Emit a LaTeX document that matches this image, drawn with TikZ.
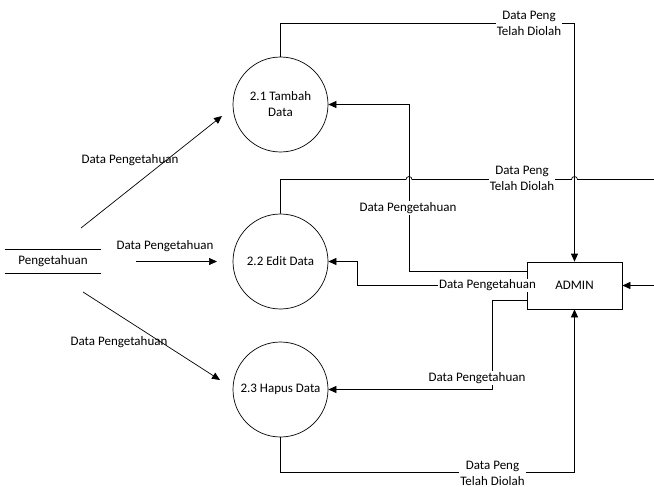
\documentclass[tikz,border=0pt]{standalone}
\usepackage{fontspec}
\setmainfont{Carlito}
\usetikzlibrary{arrows.meta}

\tikzset{
  proses/.style={draw, circle, minimum size=95pt, inner sep=0pt, align=center},
  entitas/.style={draw, minimum width=95pt, minimum height=47pt},
  alur/.style={-{Triangle[length=8pt,width=7pt]}},
  ket/.style={fill=white, inner sep=1pt, align=center}
}

\begin{document}
\begin{tikzpicture}[x=1pt, y=-1pt, line width=0.7pt,
    font=\fontsize{13}{16}\selectfont]
    \useasboundingbox (0,0) rectangle (654,487);
    % proses
    \node[proses] (p1) at (280.5,104.5) {2.1 Tambah\\Data};
    \node[proses] (p2) at (280.5,261.5) {2.2 Edit Data};
    \node[proses] (p3) at (280.5,389.5) {2.3 Hapus Data};
    \node[entitas] (admin) at (574.5,285.5) {ADMIN};
    % data store
    \node[minimum width=96pt, minimum height=23pt] (store) at (53,261.5) {Pengetahuan};
    \draw (store.north west) -- (store.north east);
    \draw (store.south west) -- (store.south east);
    \coordinate (s1) at (81,228);
    \coordinate (t1) at (222,116);
    \coordinate (s2) at (136,261.5);
    \coordinate (t2) at (217,261.5);
    \coordinate (s3) at (83,292);
    \coordinate (t3) at (220,380);
    \coordinate (kanan) at (654,285.5);
    \coordinate (ujung) at (654,179.5);
    % alur dari data store
    \draw[alur] (s1) -- (t1);
    \draw[alur] (s2) -- (t2);
    \draw[alur] (s3) -- (t3);
    \node (l1) at (130,160) {Data Pengetahuan};
    \node (l2) at (165,246) {Data Pengetahuan};
    \node (l3) at (119,342) {Data Pengetahuan};
    % alur admin ke proses
    \draw[alur] ([yshift=14.5pt]admin.west) -| (409,104.5) -- (p1.east);
    \draw[alur] (admin.west) -| (357,261.5) -- (p2.east);
    \draw[alur] ([yshift=-14.5pt]admin.west) -| (492,389.5) -- (p3.east);
    \draw[alur] (kanan) -- (admin.east);
    \node[ket] (l4) at (408,208) {Data Pengetahuan};
    \node[ket] (l5) at (487.5,285.5) {Data Pengetahuan};
    \node[ket] (l6) at (477,378) {Data Pengetahuan};
    % alur proses ke admin
    \draw[alur] (p1.north) |- (admin.north |- 0,23.5) -- (admin.north);
    \draw[alur] (p3.south) |- (admin.south |- 0,472.5) -- (admin.south);
    \draw (p2.north) |- (406,179.5) arc (180:0:3pt) -- (571.5,179.5)
        arc (180:0:3pt) -- (ujung);
    \node[ket] (l7) at (529,23.5) {Data Peng\\Telah Diolah};
    \node[ket] (l8) at (522,178.5) {Data Peng\\Telah Diolah};
    \node[ket] (l9) at (492.5,473) {Data Peng\\Telah Diolah};
\end{tikzpicture}
\end{document}
